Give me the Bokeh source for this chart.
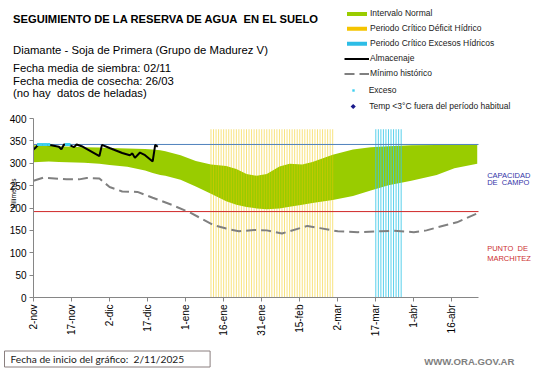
import math
from bokeh.plotting import figure
from bokeh.models import (FixedTicker, Label, Legend, LegendItem, Range1d, BoxAnnotation,
                          PolyAnnotation)
from bokeh.embed import file_html
from bokeh.resources import INLINE

# ---------------- data ----------------
tick_days = [0, 15, 30, 45, 60, 75, 90, 105, 120, 135, 150, 165]
tick_labels = ["2-nov", "17-nov", "2-dic", "17-dic", "1-ene", "16-ene", "31-ene",
               "15-feb", "2-mar", "17-mar", "1-abr", "16-abr"]
y_ticks = [0, 50, 100, 150, 200, 250, 300, 350, 400]

band_days = [0, 6, 10, 20, 26, 30, 37, 44, 47, 50, 52, 58, 64, 70, 76, 80, 84, 88, 92,
             97, 101, 106, 110, 118, 126, 133, 140, 149, 159, 166, 175]
band_upper = [340, 339, 338, 336, 335, 334, 333, 332, 331, 329, 327, 318, 305, 297, 294,
              287, 276, 272, 276, 293, 299, 297, 303, 319, 331, 336, 338, 340, 341, 341, 341]
band_lower = [302, 304, 303, 301, 299, 296, 292, 284, 278, 274, 272, 263, 248, 232, 215,
              207, 202, 199, 197, 199, 203, 207, 211, 218, 227, 239, 251, 261, 274, 289, 299]

min_days = [0, 4, 13, 18, 21, 26, 30, 35, 41, 47, 55, 62, 71, 76, 81, 87, 92, 98, 108,
            113, 120, 128, 137, 142, 150, 155, 162, 167, 175]
min_vals = [261, 268, 264, 264, 267, 266, 247, 237, 236, 223, 206, 189, 162, 154, 148,
            151, 150, 143, 160, 155, 148, 146, 148, 149, 146, 150, 161, 168, 188]

alm_days = [0, 1, 2, 7, 10, 11, 12, 14, 16, 17, 19, 26, 27, 30, 35, 38, 39, 40, 42, 44, 47, 48, 49]
alm_vals = [331, 336, 342, 340, 337, 331, 342, 341, 336, 342, 338, 316, 341, 334, 323,
            318, 322, 312, 324, 318, 304, 341, 337]

exceso_days = [2, 3, 4, 5, 6, 13, 14]
exceso_vals = [342, 342, 342, 342, 342, 342, 342]

temp_days = []
temp_vals = []

deficit_period = (70, 118)
excesos_period = (135, 145)
period_top = 376

capacidad_campo = 342
punto_marchitez = 192

x_end = 175.5
y_end = 400

# ---------------- layout geometry (screen px) ----------------
W, H = 541, 368
FL, FR, FT, FB = 33, 478, 118, 297      # where the plotting area sits on the page
XS = (FR - FL) / x_end
YS = (FB - FT) / y_end


def dx(sx):
    return (sx - FL) / XS


def dy(sy):
    return (FB - sy) / YS


# the frame covers the whole canvas; axes are pinned at the data origin
x_range = Range1d(-FL / XS, x_end + (W - FR) / XS)
y_range = Range1d(-(H - FB) / YS, y_end + FT / YS)

p = figure(width=W, height=H, x_range=x_range, y_range=y_range,
           output_backend="svg", toolbar_location=None,
           min_border_left=0, min_border_right=0, min_border_top=0, min_border_bottom=0)
p.xgrid.visible = False
p.ygrid.visible = False
p.outline_line_color = None
p.background_fill_color = "white"
p.border_fill_color = "white"

GREEN = "#99cc00"
YELLOW = "#f5c400"
CYAN = "#2dbde6"
NAVY = "#1a1a8c"

band = p.varea(x=band_days, y1=band_lower, y2=band_upper, fill_color=GREEN)

d_days = list(range(deficit_period[0], deficit_period[1] + 1))
p.segment(x0=d_days, y0=[0] * len(d_days), x1=d_days, y1=[period_top] * len(d_days),
          line_color="#f2c800", line_width=1, line_alpha=0.5)
e_days = list(range(excesos_period[0], excesos_period[1] + 1))
p.segment(x0=e_days, y0=[0] * len(e_days), x1=e_days, y1=[period_top] * len(e_days),
          line_color="#3cc8e8", line_width=1, line_alpha=0.85)

yellow_dummy = p.rect(x=[], y=[], width=1, height=1, fill_color=YELLOW, line_color=None)
cyan_dummy = p.rect(x=[], y=[], width=1, height=1, fill_color=CYAN, line_color=None)

p.segment(x0=[0], y0=[capacidad_campo], x1=[x_end], y1=[capacidad_campo],
          line_color="#4f81bd", line_width=1)
p.segment(x0=[0], y0=[punto_marchitez], x1=[x_end], y1=[punto_marchitez],
          line_color="#d02828", line_width=1)

minr = p.line(min_days, min_vals, line_color="#808080", line_width=2, line_dash="10 5")
almr = p.line(alm_days, alm_vals, line_color="#000000", line_width=2)
exr = p.scatter(exceso_days, exceso_vals, marker="square", size=3, fill_color="#3fd0f0",
                line_color=None)
tempr = p.scatter(temp_days, temp_vals, marker="diamond", size=5, fill_color=NAVY,
                  line_color=None)

# axes (pinned to the data origin)
for ax in (p.xaxis[0], p.yaxis[0]):
    ax.axis_line_color = "#868686"
    ax.major_tick_line_color = "#868686"
    ax.minor_tick_line_color = None
    ax.major_tick_out = 4
    ax.major_tick_in = 0
    ax.major_label_text_font = "Liberation Sans"
    ax.major_label_text_font_size = "10px"
    ax.major_label_text_color = "#000000"
    ax.major_label_standoff = 3
    ax.fixed_location = 0
p.xaxis.bounds = (0, x_end)
p.yaxis.bounds = (0, y_end)
p.xaxis.ticker = FixedTicker(ticks=tick_days, minor_ticks=[])
p.xaxis.major_label_overrides = {d: l for d, l in zip(tick_days, tick_labels)}
p.xaxis.major_label_orientation = math.pi / 2
p.yaxis.ticker = FixedTicker(ticks=y_ticks, minor_ticks=[])

NB = "\u00a0"


def txt(text, x, y, size, color="#000000", bold=False, align="left",
        baseline="alphabetic", angle=0.0, font="Liberation Sans", **kw):
    lab = Label(x=x, y=H - y, x_units="screen", y_units="screen", text=text,
                text_font=font, text_font_size=f"{size}px", text_color=color,
                text_font_style="bold" if bold else "normal", text_align=align,
                text_baseline=baseline, angle=angle, **kw)
    p.add_layout(lab)


txt(f"SEGUIMIENTO DE LA RESERVA DE AGUA{NB} EN EL SUELO", 12.5, 18.9, 11.2, bold=True)
txt("Diamante - Soja de Primera (Grupo de Madurez V)", 12.5, 49.8, 11.3)
txt("Fecha media de siembra: 02/11", 12.5, 67.5, 11.3)
txt("Fecha media de cosecha: 26/03", 12.5, 80.0, 11.3)
txt(f"(no hay{NB} datos de heladas)", 12.5, 92.2, 11.3)

txt("Milímetros", 12.5, 193, 6.5, align="center", baseline="middle", angle=math.pi / 2)

txt("CAPACIDAD", 486.7, 174.7, 7.5, color="#3434a8")
txt(f"DE{NB} CAMPO", 486.7, 182.0, 7.5, color="#3434a8")
txt(f"PUNTO{NB} DE", 486.7, 248.3, 7.5, color="#cc3030")
txt("MARCHITEZ", 486.7, 258.3, 7.5, color="#cc3030")
txt("WWW.ORA.GOV.AR", 423.7, 361.0, 9.6, color="#808080", bold=True, baseline="middle")


# legends
def mk_legend(items, x, bottom, gw, gh, standoff, lh=12):
    lg = Legend(items=items, location=(x, H - bottom), orientation="vertical",
                glyph_width=gw, glyph_height=gh, label_height=lh, label_standoff=standoff,
                spacing=3, padding=0, margin=0, border_line_color=None,
                background_fill_alpha=0, label_text_font="Liberation Sans",
                label_text_font_size="8.5px", label_text_color="#1a1a1a")
    p.add_layout(lg, "center")


mk_legend([LegendItem(label="Exceso", renderers=[exr])], 346.7, 96, 12, 6, 10)
mk_legend([LegendItem(label="Temp <3°C fuera del período habitual", renderers=[tempr])],
          346.2, 112.5, 13, 13, 10, lh=13)
mk_legend([LegendItem(label="Intervalo Normal", renderers=[band]),
           LegendItem(label="Periodo Crítico Déficit Hídrico", renderers=[yellow_dummy]),
           LegendItem(label="Periodo Crítico Excesos Hídricos", renderers=[cyan_dummy]),
           LegendItem(label="Almacenaje", renderers=[almr]),
           LegendItem(label="Mínimo histórico", renderers=[minr])],
          344, 79.3, 25, 5, 1)

# legend keys for the series that have no marks to show
for col, cy in ((YELLOW, 28.3), (CYAN, 43.3)):
    p.add_layout(BoxAnnotation(left=dx(346.5), right=dx(366.5), top=dy(cy - 2),
                               bottom=dy(cy + 2), fill_color=col, fill_alpha=1,
                               line_color=None))
cx, cy, r = 352.7, 106.0, 2.6
p.add_layout(PolyAnnotation(xs=[dx(cx - r), dx(cx), dx(cx + r), dx(cx)],
                            ys=[dy(cy), dy(cy - r), dy(cy), dy(cy + r)],
                            fill_color=NAVY, fill_alpha=1, line_color=None))

txt(f"Fecha de inicio del gráfico:{NB} 2/11/2025", 4, 358.5, 10.2, color="#1a1a1a",
    baseline="middle", font="Lato", border_line_color="#8a7f7f", border_line_width=1,
    padding=dict(left=6, right=26, top=2, bottom=2))

open("out.html", "w").write(file_html(p, INLINE))
